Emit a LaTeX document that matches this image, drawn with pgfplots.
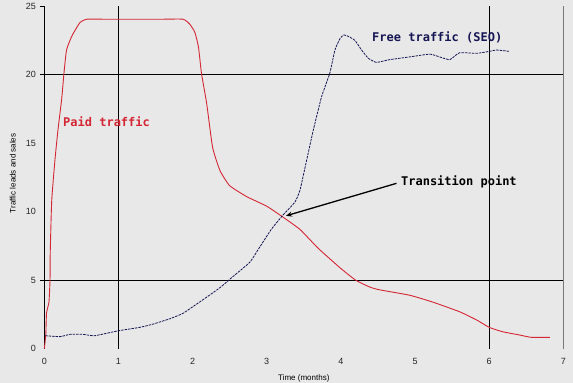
\documentclass[border=0pt]{standalone}
\usepackage{pgfplots}
\pgfplotsset{compat=1.18}
\usepackage{fontspec}
\setmainfont{Liberation Sans}
\newfontfamily\monofont{DejaVu Sans Mono}
\usetikzlibrary{arrows.meta}

\definecolor{bgcol}{RGB}{232,232,232}
\definecolor{paidred}{RGB}{212,38,52}
\definecolor{freenavy}{RGB}{22,22,84}
\definecolor{edgegray}{RGB}{120,120,120}

\begin{document}
\begin{tikzpicture}
\useasboundingbox (0,0) rectangle (573bp,383bp);
\fill[bgcol] (0,0) rectangle (573bp,383bp);
\begin{axis}[
  at={(44.3bp,34.3bp)}, anchor=south west,
  scale only axis, width=519bp, height=342.5bp,
  xmin=0, xmax=7, ymin=0, ymax=25,
  axis line style={draw=none},
  major tick length=0pt,
  xtick={0,...,7}, ytick={0,5,...,25},
  /pgf/number format/assume math mode=true,
  tick label style={font=\fontsize{9bp}{10bp}\selectfont, text=black!85},
  xticklabel style={yshift=-6bp},
  yticklabel style={xshift=-5bp},
  clip=false,
]
% frame and reference lines
\draw[black, line width=0.9bp] (axis cs:0,0) -- (axis cs:0,25);
\draw[black, line width=0.9bp] (axis cs:1,0) -- (axis cs:1,25);
\draw[black, line width=0.9bp] (axis cs:6,0) -- (axis cs:6,25);
\draw[edgegray, line width=0.9bp] (axis cs:7,0) -- (axis cs:7,25);
\draw[black, line width=0.9bp] ([xshift=-4bp]axis cs:0,20) -- (axis cs:7,20);
\draw[black, line width=0.9bp] ([xshift=-4bp]axis cs:0,5) -- (axis cs:7,5);
\draw[black, line width=0.9bp] ([xshift=-4bp]axis cs:0,25) -- (axis cs:0,25);

% paid traffic
\addplot[paidred, line width=0.9bp, smooth, tension=0.3] coordinates {
(0,0) (0.02,1.0) (0.03,2.6) (0.063,3.4) (0.077,5.0) (0.08,7.0) (0.1,10.8)
(0.144,13.8) (0.185,16.0) (0.234,18.2) (0.265,20.1) (0.3,21.8) (0.37,22.8)
(0.48,23.8) (0.575,24.05) (0.8,24.05) (1.2,24.05) (1.6,24.05) (1.87,24.05)
(1.96,23.7) (2.03,23.1) (2.08,22.0) (2.12,20.1) (2.19,17.9) (2.27,14.7)
(2.37,13.0) (2.5,11.9) (2.73,11.1) (3.0,10.4) (3.22,9.6) (3.45,8.7)
(3.69,7.35) (3.99,5.9) (4.2,5.0) (4.39,4.5) (4.52,4.3) (4.93,3.9)
(5.24,3.4) (5.6,2.7) (5.83,2.1) (6.0,1.56) (6.18,1.24) (6.41,1.0)
(6.57,0.83) (6.82,0.83)
};

% free traffic
\addplot[freenavy, line width=0.8bp, dash pattern=on 2.5bp off 1bp, smooth, tension=0.3] coordinates {
(0.01,0.95) (0.21,0.88) (0.35,1.05) (0.52,1.05) (0.68,0.95) (1.0,1.31)
(1.29,1.56) (1.47,1.8) (1.7,2.2) (1.87,2.58) (2.05,3.24) (2.2,3.8)
(2.38,4.5) (2.53,5.2) (2.77,6.3) (2.88,7.2) (3.06,8.7) (3.22,9.76)
(3.38,10.7) (3.45,11.6) (3.54,13.8) (3.63,16.0) (3.74,18.4) (3.85,20.1)
(3.92,21.8) (3.99,22.65) (4.04,22.9) (4.1,22.8) (4.19,22.5) (4.28,21.8)
(4.37,21.2) (4.48,20.9) (4.66,21.1) (4.93,21.3) (5.2,21.5) (5.33,21.3)
(5.47,21.1) (5.6,21.6) (5.83,21.56) (6.0,21.7) (6.1,21.8) (6.28,21.7)
};

% annotations
\node[anchor=west, inner sep=0pt, text=paidred, font=\monofont\bfseries\fontsize{12bp}{14bp}\selectfont]
  at (axis cs:0.252,16.6) {Paid traffic};
\node[anchor=west, inner sep=0pt, text=freenavy, font=\monofont\bfseries\fontsize{12bp}{14bp}\selectfont]
  at (axis cs:4.42,22.75) {Free traffic (SEO)};
\node[anchor=west, inner sep=0pt, text=black, font=\monofont\bfseries\fontsize{12bp}{14bp}\selectfont]
  at (axis cs:4.81,12.17) {Transition point};
\draw[black, line width=1.3bp, -{Stealth[length=6bp,width=5bp]}]
  (axis cs:4.75,12.07) -- (axis cs:3.26,9.7);

% axis titles
\node[font=\fontsize{8bp}{9bp}\selectfont] at ([yshift=-29.5bp]axis cs:3.5,0) {Time (months)};
\node[rotate=90, font=\fontsize{8bp}{9bp}\selectfont] at ([xshift=-31.6bp]axis cs:0,12.8) {Traffic leads and sales};
\end{axis}
\end{tikzpicture}
\end{document}
